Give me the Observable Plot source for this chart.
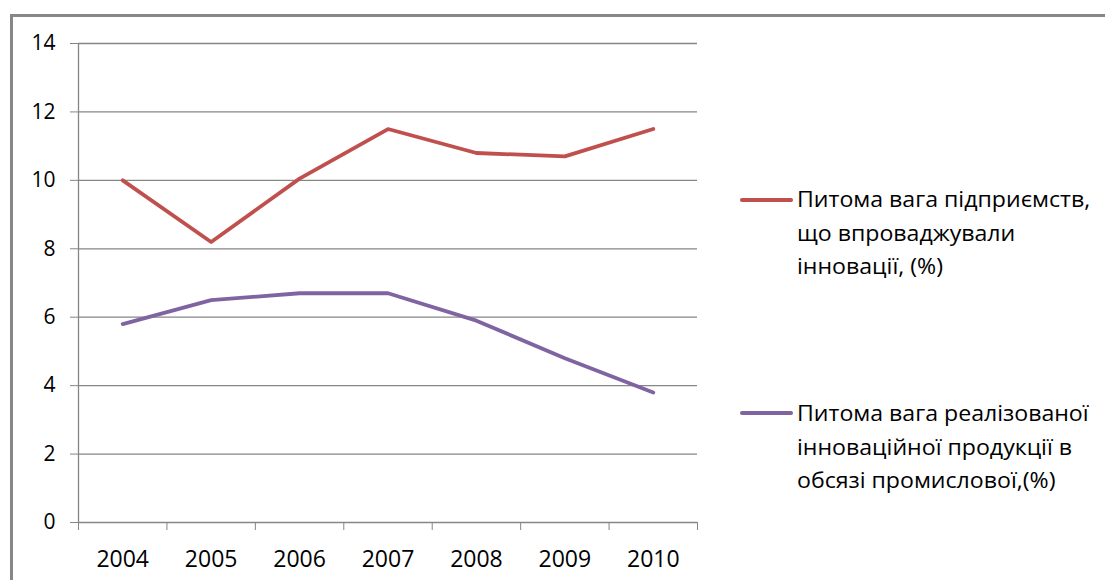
<!DOCTYPE html>
<html><head><meta charset="utf-8">
<script src="https://cdn.jsdelivr.net/npm/d3@7"></script>
<script src="https://cdn.jsdelivr.net/npm/@observablehq/plot@0.6"></script>
<style>
html,body{margin:0;padding:0;background:#fff;overflow:hidden;}
#wrap{position:relative;width:1105px;height:580px;overflow:hidden;font-family:"Open Sans",sans-serif;background:#fff;}
#frame{position:absolute;left:10px;top:14px;width:1300px;height:800px;border-top:3px solid #878787;border-left:3px solid #878787;}
#chart{position:absolute;left:0;top:0;}
.sw{position:absolute;left:740px;width:53px;height:4px;border-radius:2px;}
.lt{position:absolute;left:797px;font-size:21.5px;line-height:33.5px;white-space:nowrap;color:#000;transform:scaleX(1.075);transform-origin:left top;}
</style>
</head><body>
<div id="wrap">
  <div id="frame"></div>
  <div id="chart"></div>
  <div id="legend"></div>
</div>
<script>
const years = ["2004", "2005", "2006", "2007", "2008", "2009", "2010"];
const enterprises = [10.0, 8.2, 10.05, 11.5, 10.8, 10.7, 11.5];
const products = [5.8, 6.5, 6.7, 6.7, 5.9, 4.8, 3.8];
const seriesNames = [
  ["Питома вага підприємств,", "що впроваджували", "інновації, (%)"],
  ["Питома вага реалізованої", "інноваційної продукції в", "обсязі промислової,(%)"]
];
const seriesColors = ["#C0504D", "#8064A2"];
const yTicks = [0, 2, 4, 6, 8, 10, 12, 14];

const grid = "#868686";
const plot = Plot.plot({
  width: 1105, height: 580,
  marginLeft: 78, marginRight: 408, marginTop: 43, marginBottom: 58,
  x: {type: "linear", domain: [0, years.length], label: null},
  y: {domain: [0, 14], label: null},
  style: {fontFamily: "'Open Sans', sans-serif", background: "transparent", color: "#000"},
  marks: [
    Plot.gridY(yTicks, {stroke: grid, strokeOpacity: 1, strokeWidth: 1.3}),
    Plot.axisY(yTicks, {tickSize: 8, tickPadding: 15, stroke: grid, fill: "#000", fontSize: 21, tickFormat: d => String(d), label: null}),
    Plot.ruleX([0], {y1: 0, y2: 14, stroke: grid, strokeWidth: 1.3}),
    Plot.axisX(d3.range(years.length + 1), {tickSize: 8, stroke: grid, tickFormat: () => "", label: null}),
    Plot.axisX(years.map((y, i) => i + 0.5), {tickSize: 0, tickPadding: 28, fontSize: 23, fill: "#000", tickFormat: v => years[Math.floor(v)], label: null}),
    Plot.lineY(enterprises, {x: (d, i) => i + 0.5, y: d => d, stroke: seriesColors[0], strokeWidth: 3.8, strokeLinejoin: "round"}),
    Plot.lineY(products, {x: (d, i) => i + 0.5, y: d => d, stroke: seriesColors[1], strokeWidth: 3.8, strokeLinejoin: "round"})
  ]
});
document.getElementById("chart").appendChild(plot);

const legend = document.getElementById("legend");
const swatchTops = [198, 411];
const textTops = [182, 396];
seriesNames.forEach((lines, k) => {
  const sw = document.createElement("div");
  sw.className = "sw";
  sw.style.top = swatchTops[k] + "px";
  sw.style.background = seriesColors[k];
  legend.appendChild(sw);
  const t = document.createElement("div");
  t.className = "lt";
  t.style.top = textTops[k] + "px";
  t.innerHTML = lines.join("<br>");
  legend.appendChild(t);
});
</script>
</body></html>
